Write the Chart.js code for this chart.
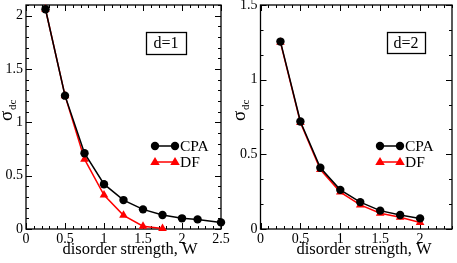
<!DOCTYPE html>
<html>
<head>
<meta charset="utf-8">
<script src="https://cdn.jsdelivr.net/npm/chart.js@4"></script>
<style>
  body { margin: 0; background: #fff; }
  #wrap { position: relative; width: 457px; height: 263px; }
  canvas { position: absolute; top: 0; }
</style>
</head>
<body>
<div id="wrap">
  <canvas id="c1" width="230" height="263" style="left:0"></canvas>
  <canvas id="c2" width="227" height="263" style="left:230px"></canvas>
</div>
<script>
// d=1 panel
const w1 = [0.25, 0.5, 0.75, 1, 1.25, 1.5, 1.75, 2, 2.2, 2.5];
const cpa1 = [2.06, 1.25, 0.71, 0.42, 0.271, 0.184, 0.131, 0.1, 0.09, 0.062];
const wdf1 = [0.25, 0.5, 0.75, 1, 1.25, 1.5, 1.75];
const df1 = [2.06, 1.25, 0.655, 0.318, 0.128, 0.026, 0.004];
const xTicks1 = [0, 0.5, 1, 1.5, 2, 2.5];
const yTicks1 = [0, 0.5, 1, 1.5, 2];

// d=2 panel
const w2 = [0.25, 0.5, 0.75, 1, 1.25, 1.5, 1.75, 2];
const cpa2 = [1.255, 0.72, 0.41, 0.262, 0.18, 0.123, 0.094, 0.071];
const df2 = [1.25, 0.713, 0.398, 0.247, 0.161, 0.106, 0.078, 0.043];
const xTicks2 = [0, 0.5, 1, 1.5, 2];
const yTicks2 = [0, 0.5, 1, 1.5];

const serif = '"Liberation Serif", "DejaVu Serif", serif';

function pts(xs, ys) {
  return xs.map((x, i) => ({ x: x, y: ys[i] }));
}

// frame + inward ticks go under the data, labels/legend/box on top
function framePlugin(cfg) {
  return {
    id: 'frame',
    beforeDatasetsDraw(chart) {
      const ctx = chart.ctx;
      const a = chart.chartArea;
      const xs = chart.scales.x, ys = chart.scales.y;
      ctx.save();
      ctx.strokeStyle = '#000';
      ctx.lineWidth = 1.3;
      ctx.strokeRect(a.left, a.top, a.right - a.left, a.bottom - a.top);

      ctx.lineWidth = 1;
      ctx.beginPath();
      for (let v = xs.min; v <= xs.max + 1e-9; v += cfg.xMinor) {
        const p = Math.round(xs.getPixelForValue(v)) + 0.5;
        const major = Math.abs(v / cfg.xMajor - Math.round(v / cfg.xMajor)) < 1e-6;
        const len = major ? 6 : 3;
        ctx.moveTo(p, a.bottom); ctx.lineTo(p, a.bottom - len);
        ctx.moveTo(p, a.top); ctx.lineTo(p, a.top + len);
      }
      for (let v = ys.min; v <= ys.max + 1e-9; v += cfg.yMinor) {
        const p = Math.round(ys.getPixelForValue(v)) + 0.5;
        const major = Math.abs(v / cfg.yMajor - Math.round(v / cfg.yMajor)) < 1e-6;
        const len = major ? 6 : 3;
        ctx.moveTo(a.left, p); ctx.lineTo(a.left + len, p);
        ctx.moveTo(a.right, p); ctx.lineTo(a.right - len, p);
      }
      ctx.stroke();
      ctx.restore();
    },
    afterDraw(chart) {
      const ctx = chart.ctx;
      const a = chart.chartArea;
      const xs = chart.scales.x, ys = chart.scales.y;
      ctx.save();
      ctx.fillStyle = '#000';
      ctx.strokeStyle = '#000';
      ctx.font = '14px ' + serif;
      ctx.textAlign = 'center';
      ctx.textBaseline = 'top';
      cfg.xTicks.forEach(v => {
        ctx.fillText(String(v), xs.getPixelForValue(v), a.bottom + 3);
      });
      ctx.textAlign = 'right';
      ctx.textBaseline = 'middle';
      cfg.yTicks.forEach(v => {
        ctx.fillText(String(v), a.left - 3, ys.getPixelForValue(v));
      });

      // x title
      ctx.font = '16.5px ' + serif;
      ctx.textAlign = 'center';
      ctx.textBaseline = 'alphabetic';
      ctx.fillText('disorder strength, W', cfg.xTitleX, 254);

      // y title sigma_dc
      ctx.save();
      ctx.translate(cfg.yTitleX, (a.top + a.bottom) / 2 - 6);
      ctx.rotate(-Math.PI / 2);
      ctx.textAlign = 'left';
      ctx.font = '19px ' + serif;
      ctx.fillText('σ', -10, 0);
      ctx.font = '11px ' + serif;
      ctx.fillText('dc', 1, 4);
      ctx.restore();

      // label box
      const b = cfg.box;
      ctx.lineWidth = 1.3;
      ctx.strokeRect(b.x + 0.5, b.y + 0.5, b.w, b.h);
      ctx.font = '16px ' + serif;
      ctx.textAlign = 'center';
      ctx.textBaseline = 'middle';
      ctx.fillText(b.text, b.x + b.w / 2, b.y + b.h / 2 + 1);

      // legend
      chart.data.datasets.forEach((ds, i) => {
        const y = cfg.legend.y + i * 16;
        const x0 = cfg.legend.x, x1 = x0 + 20;
        ctx.strokeStyle = ds.borderColor;
        ctx.fillStyle = ds.backgroundColor;
        ctx.lineWidth = 1.5;
        ctx.beginPath();
        ctx.moveTo(x0, y); ctx.lineTo(x1, y);
        ctx.stroke();
        [x0, x1].forEach(px => {
          ctx.beginPath();
          if (ds.pointStyle === 'triangle') {
            const r = 5;
            ctx.moveTo(px, y - r);
            ctx.lineTo(px + r * 0.95, y + r * 0.6);
            ctx.lineTo(px - r * 0.95, y + r * 0.6);
            ctx.closePath();
          } else {
            ctx.arc(px, y, 4.2, 0, Math.PI * 2);
          }
          ctx.fill();
        });
        ctx.fillStyle = '#000';
        ctx.font = '15.5px ' + serif;
        ctx.textAlign = 'left';
        ctx.textBaseline = 'middle';
        ctx.fillText(ds.label, x1 + 5, y + 1);
      });
      ctx.restore();
    }
  };
}

function makeChart(id, cpaPts, dfPts, xmax, ymax, pad, cfg) {
  return new Chart(document.getElementById(id).getContext('2d'), {
    type: 'line',
    data: {
      datasets: [{
        label: 'CPA',
        data: cpaPts,
        borderColor: '#000',
        backgroundColor: '#000',
        borderWidth: 1.5,
        pointStyle: 'circle',
        pointRadius: 4.2,
        pointBorderWidth: 0,
        tension: 0
      }, {
        label: 'DF',
        data: dfPts,
        borderColor: '#ff0000',
        backgroundColor: '#ff0000',
        borderWidth: 1.5,
        pointStyle: 'triangle',
        pointRadius: 5,
        pointBorderWidth: 0,
        tension: 0
      }]
    },
    options: {
      responsive: false,
      animation: false,
      clip: false,
      layout: { padding: pad },
      plugins: {
        legend: { display: false },
        tooltip: { enabled: false }
      },
      scales: {
        x: { type: 'linear', min: 0, max: xmax, display: false },
        y: { type: 'linear', min: 0, max: ymax, display: false }
      }
    },
    plugins: [framePlugin(cfg)]
  });
}

makeChart('c1', pts(w1, cpa1), pts(wdf1, df1), 2.5, 2.1,
  { left: 26, top: 5, right: 9, bottom: 34 },
  {
    xMinor: 0.1, xMajor: 0.5, yMinor: 0.1, yMajor: 0.5,
    xTicks: xTicks1, yTicks: yTicks1,
    xTitleX: 130, yTitleX: 12,
    box: { x: 146, y: 32, w: 40, h: 22, text: 'd=1' },
    legend: { x: 155, y: 146 }
  });

makeChart('c2', pts(w2, cpa2), pts(w2, df2), 2.4, 1.5,
  { left: 30.5, top: 5, right: 2, bottom: 34 },
  {
    xMinor: 0.1, xMajor: 0.5, yMinor: 0.5 / 3, yMajor: 0.5,
    xTicks: xTicks2, yTicks: yTicks2,
    xTitleX: 134, yTitleX: 15,
    box: { x: 157, y: 32, w: 38, h: 21, text: 'd=2' },
    legend: { x: 150, y: 146 }
  });
</script>
</body>
</html>
